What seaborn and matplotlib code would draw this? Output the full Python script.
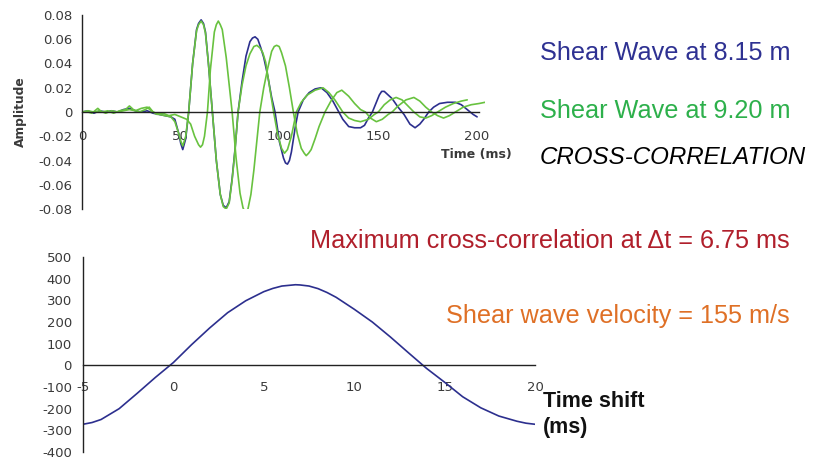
import matplotlib
matplotlib.use("Agg")
import matplotlib.pyplot as plt
import seaborn as sns

# ---- shear wave records: time (ms) and amplitude ----
t_815 = [0, 3, 6, 9, 12, 15, 18, 21, 24, 27,
         30, 33, 36, 39, 42, 45, 47, 49, 50, 51,
         52.5, 54, 56, 58, 59, 60.3, 61.5, 62.5, 64, 66,
         68, 70, 71.5, 73, 74.5, 76, 77.5, 79, 81, 83,
         85, 86.3, 87.6, 89, 90.5, 92, 94, 96, 97.7, 100,
         102, 103, 104, 105, 106, 108, 109.4, 112, 115, 118,
         121, 124, 127, 130, 132, 135, 138, 141, 143, 145,
         147, 149, 150.5, 151.7, 153, 155, 157, 160, 163, 166,
         168.6, 171, 173, 175.5, 178, 181, 185, 189, 192, 195,
         198, 200]
a_815 = [0.000, 0.001, -0.001, 0.001, 0.000, 0.001, 0.000, 0.002, 0.003, 0.001,
         0.000, 0.001, -0.001, -0.002, -0.003, -0.004, -0.006, -0.018, -0.026, -0.031,
         -0.022, 0.000, 0.040, 0.068, 0.073, 0.076, 0.073, 0.066, 0.040, 0.000,
         -0.040, -0.068, -0.077, -0.079, -0.074, -0.055, -0.030, 0.000, 0.025, 0.046,
         0.058, 0.061, 0.062, 0.060, 0.053, 0.045, 0.030, 0.012, 0.000, -0.025,
         -0.038, -0.042, -0.043, -0.040, -0.033, -0.012, 0.000, 0.010, 0.016, 0.019,
         0.020, 0.016, 0.009, 0.000, -0.006, -0.012, -0.013, -0.013, -0.011, -0.005,
         0.000, 0.008, 0.014, 0.017, 0.017, 0.014, 0.011, 0.004, -0.002, -0.010,
         -0.013, -0.010, -0.006, 0.000, 0.004, 0.007, 0.008, 0.008, 0.006, 0.002,
         -0.002, -0.004]

# 9.20 m record moved back onto the 8.15 m record
t_920_shifted = [0, 3, 5, 8, 10, 13, 16, 19, 22, 24,
                 26, 29, 32, 34, 36, 39, 42, 45, 47, 49,
                 50, 51, 52.5, 54, 56, 58, 59, 60.3, 61.5, 62.5,
                 64, 66, 68, 70, 71.5, 73, 74.5, 76, 77.5, 79,
                 81, 83, 85, 87, 88.5, 90, 91.5, 93, 95, 97,
                 99, 101, 102.5, 104, 106, 108.5, 111, 114, 118, 122,
                 125, 128, 132, 135, 138, 141, 145, 148, 150, 153,
                 156, 159, 162, 165, 168, 171, 174, 177, 180, 184,
                 188, 192, 195]
a_920_shifted = [0.000, 0.000, -0.001, 0.003, 0.000, 0.001, -0.001, 0.001, 0.002, 0.005,
                 0.002, 0.000, 0.002, 0.004, 0.000, -0.002, -0.003, -0.004, -0.008, -0.018,
                 -0.024, -0.028, -0.020, 0.000, 0.040, 0.067, 0.072, 0.075, 0.072, 0.065,
                 0.040, 0.000, -0.040, -0.068, -0.078, -0.080, -0.075, -0.056, -0.031, 0.000,
                 0.022, 0.038, 0.048, 0.054, 0.055, 0.053, 0.049, 0.041, 0.020, 0.000,
                 -0.018, -0.030, -0.034, -0.031, -0.020, 0.000, 0.008, 0.014, 0.018, 0.020,
                 0.016, 0.010, 0.000, -0.005, -0.007, -0.008, -0.006, -0.002, 0.000, 0.006,
                 0.010, 0.012, 0.010, 0.005, 0.000, -0.004, -0.005, -0.003, 0.000, 0.004,
                 0.007, 0.009, 0.010]

# 9.20 m record as recorded
t_920 = [0, 3, 6, 9, 12, 15, 18, 21, 24, 27,
         30, 33, 35, 38, 41, 44, 47, 50, 53, 55,
         57, 59, 60, 61, 62, 63.5, 65, 67, 68, 69,
         70, 71, 73, 76, 78, 80, 81.5, 82.7, 84, 85.5,
         87, 90, 92, 94, 96, 97.3, 98.5, 99.8, 101, 103,
         105, 107, 109, 111, 112.5, 113.5, 114.7, 116, 118, 120,
         123, 126, 129, 131.5, 135, 138, 141, 143.5, 146, 149,
         152, 155, 157, 160, 164, 168, 171, 174, 177, 180,
         183, 186, 189, 193, 197, 201, 204]
a_920 = [0.000, 0.001, 0.000, 0.001, -0.001, 0.001, 0.000, 0.001, 0.002, 0.001,
         0.003, 0.004, 0.001, -0.002, -0.001, -0.003, -0.002, -0.004, -0.006, -0.010,
         -0.020, -0.027, -0.029, -0.027, -0.020, 0.000, 0.035, 0.066, 0.072, 0.075,
         0.072, 0.068, 0.045, 0.000, -0.038, -0.067, -0.079, -0.083, -0.080, -0.068,
         -0.048, 0.000, 0.020, 0.036, 0.050, 0.054, 0.055, 0.054, 0.049, 0.038,
         0.020, 0.000, -0.018, -0.030, -0.034, -0.036, -0.034, -0.031, -0.022, -0.012,
         0.000, 0.009, 0.016, 0.018, 0.013, 0.007, 0.002, 0.000, -0.005, -0.008,
         -0.006, -0.002, 0.000, 0.005, 0.010, 0.012, 0.009, 0.004, 0.000, -0.003,
         -0.005, -0.003, 0.000, 0.004, 0.006, 0.007, 0.008]

# ---- cross-correlation against time shift (ms) ----
lag_ms = [-5, -4.5, -4, -3, -2, -1, 0, 1, 2, 3,
          4, 5, 5.5, 6, 6.75, 7, 7.5, 8, 8.5, 9,
          10, 11, 12, 13, 14, 15, 16, 17, 18, 19,
          19.5, 20]
xcorr = [-272, -264, -250, -200, -129, -56, 13, 95, 172, 243,
         298, 340, 355, 366, 372, 371, 366, 354, 336, 314,
         259, 200, 131, 58, -14, -78, -145, -196, -234, -258,
         -267, -272]

# ---- ticks ----
amp_ticks = [-0.08, -0.06, -0.04, -0.02, 0, 0.02, 0.04, 0.06, 0.08]
amp_labels = ["-0.08", "-0.06", "-0.04", "-0.02", "0", "0.02", "0.04", "0.06", "0.08"]
time_ticks = [0, 50, 100, 150, 200]
lag_ticks = [-5, 0, 5, 10, 15, 20]
xcorr_ticks = [-400, -300, -200, -100, 0, 100, 200, 300, 400, 500]
xcorr_labels = ["-400", "-300", "-200", "-100", "0", "100", "200", "300", "400", "500"]

# ---- colours ----
C_BLUE = "#2c2f8e"
C_GREEN = "#68c23f"
T_BLUE = "#2e3192"
T_GREEN = "#2db04b"
T_RED = "#b01f2b"
T_ORANGE = "#df7026"
C_AXIS = "#222222"
C_TICK = "#3a3a3a"

sns.set_style("white")
plt.rcParams["font.family"] = ["DejaVu Sans"]

W, H = 816, 459
fig = plt.figure(figsize=(W / 100, H / 100), dpi=100)


def fx(px):
    return px / W


def fy(py):
    return 1 - py / H


def style_axes(ax):
    for side in ("top", "right"):
        ax.spines[side].set_visible(False)
    for side in ("left", "bottom"):
        ax.spines[side].set_color(C_AXIS)
        ax.spines[side].set_linewidth(1.0)
    ax.spines["bottom"].set_position(("data", 0))
    ax.set_xlabel("")
    ax.set_ylabel("")


# ---- upper panel: the two shear wave records ----
ax1 = fig.add_axes([fx(82), fy(209), fx(485 - 82), 194 / H])
sns.lineplot(x=t_815, y=a_815, ax=ax1, color=C_BLUE, linewidth=1.2, estimator=None)
sns.lineplot(x=t_920_shifted, y=a_920_shifted, ax=ax1, color=C_GREEN, linewidth=1.2,
             estimator=None)
sns.lineplot(x=t_920, y=a_920, ax=ax1, color=C_GREEN, linewidth=1.2, estimator=None)
ax1.set_xlim(0, 204)
ax1.set_ylim(-0.08, 0.08)
style_axes(ax1)
ax1.spines["bottom"].set_bounds(0, 201)
ax1.set_yticks(amp_ticks)
ax1.set_yticklabels(amp_labels)
ax1.set_xticks(time_ticks)
ax1.set_xticklabels([str(v) for v in time_ticks])
ax1.tick_params(axis="y", direction="out", length=4, width=0.9, pad=3,
                labelsize=9.5, colors=C_AXIS, labelcolor=C_TICK)
ax1.tick_params(axis="x", direction="out", length=3, width=0.9, pad=10,
                labelsize=9.5, colors=C_AXIS, labelcolor=C_TICK)

fig.text(fx(20), fy(112), "Amplitude", rotation=90, ha="center", va="center",
         fontsize=8.8, fontweight="bold", color=C_TICK)
fig.text(fx(476), fy(154), "Time (ms)", ha="center", va="center",
         fontsize=9, fontweight="bold", color=C_TICK)

# ---- lower panel: cross-correlation ----
ax2 = fig.add_axes([fx(83), fy(452), fx(535 - 83), 195 / H])
sns.lineplot(x=lag_ms, y=xcorr, ax=ax2, color=C_BLUE, linewidth=1.2, estimator=None)
ax2.set_xlim(-5, 20)
ax2.set_ylim(-400, 500)
style_axes(ax2)
ax2.set_yticks(xcorr_ticks)
ax2.set_yticklabels(xcorr_labels)
ax2.set_xticks(lag_ticks)
ax2.set_xticklabels([str(v) for v in lag_ticks])
ax2.tick_params(axis="y", direction="out", length=5, width=0.9, pad=3,
                labelsize=9.5, colors=C_AXIS, labelcolor=C_TICK)
ax2.tick_params(axis="x", direction="out", length=4, width=0.9, pad=7,
                labelsize=9.5, colors=C_AXIS, labelcolor=C_TICK)

fig.text(fx(543), fy(407), "Time shift", ha="left", va="baseline",
         fontsize=15.5, fontweight="bold", color="#111111", family="Liberation Sans")
fig.text(fx(543), fy(433), "(ms)", ha="left", va="baseline",
         fontsize=15.5, fontweight="bold", color="#111111", family="Liberation Sans")

# ---- annotations ----
big = dict(fontsize=18.2, family="Liberation Sans", va="baseline")
fig.text(fx(540), fy(60), "Shear Wave at 8.15 m", ha="left", color=T_BLUE, **big)
fig.text(fx(540), fy(118), "Shear Wave at 9.20 m", ha="left", color=T_GREEN, **big)
fig.text(fx(540), fy(164), "CROSS-CORRELATION", ha="left", color="black",
         style="italic", fontsize=17.4, family="Liberation Sans", va="baseline")
fig.text(fx(790), fy(248), "Maximum cross-correlation at \u0394t = 6.75 ms", ha="right",
         color=T_RED, **big)
fig.text(fx(790), fy(323), "Shear wave velocity = 155 m/s", ha="right",
         color=T_ORANGE, **big)

fig.savefig("out.png", dpi=100)
